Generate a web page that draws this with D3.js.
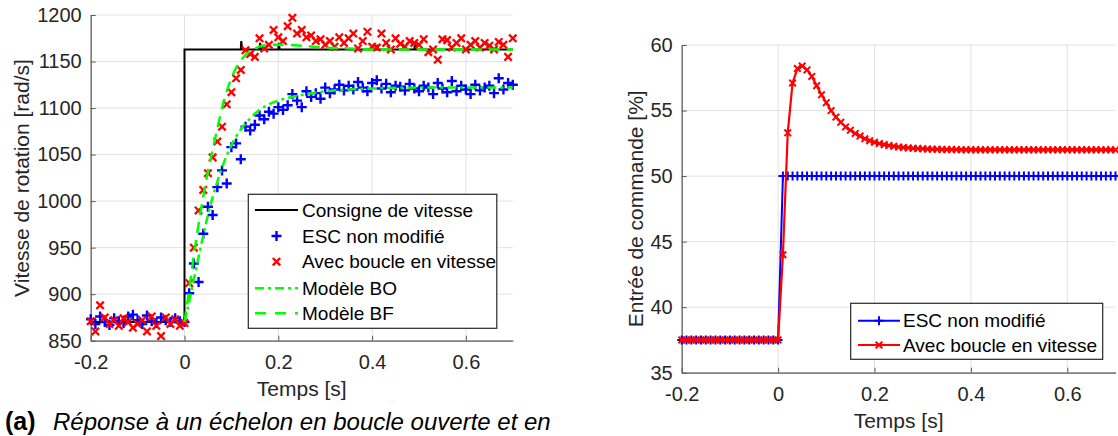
<!DOCTYPE html>
<html><head><meta charset="utf-8">
<script src="https://cdn.jsdelivr.net/npm/d3@7"></script>
<style>
body{margin:0;background:#fff;}
text{font-family:"Liberation Sans",Arial,Helvetica,sans-serif;}
</style>
</head><body>
<svg id="c" width="1118" height="436"></svg>
<script>
// ---------- DATA ----------
const times = [-0.2,-0.19,-0.18,-0.17,-0.16,-0.15,-0.14,-0.13,-0.12,-0.11,-0.1,-0.09,-0.08,-0.07,-0.06,-0.05,-0.04,-0.03,-0.02,-0.01,0,
  0.01,0.02,0.03,0.04,0.05,0.06,0.07,0.08,0.09,0.1,
  0.11,0.12,0.13,0.14,0.15,0.16,0.17,0.18,0.19,0.2,
  0.21,0.22,0.23,0.24,0.25,0.26,0.27,0.28,0.29,0.3,
  0.31,0.32,0.33,0.34,0.35,0.36,0.37,0.38,0.39,0.4,
  0.41,0.42,0.43,0.44,0.45,0.46,0.47,0.48,0.49,0.5,
  0.51,0.52,0.53,0.54,0.55,0.56,0.57,0.58,0.59,0.6,
  0.61,0.62,0.63,0.64,0.65,0.66,0.67,0.68,0.69,0.7];

const speedESC = [873,868,876,870,867,874,871,869,876,878,872,868,877,871,869,875,872,870,874,871,870,
  901,933,913,965,994,985,1015,1033,1019,1058,
  1062,1045,1080,1076,1082,1092,1088,1096,1094,1101,
  1098,1103,1115,1108,1101,1118,1112,1116,1110,1122,
  1116,1120,1125,1119,1124,1120,1128,1122,1118,1127,
  1130,1121,1126,1117,1124,1123,1119,1126,1121,1118,
  1124,1122,1115,1127,1121,1117,1129,1118,1124,1120,
  1115,1125,1119,1122,1124,1116,1132,1120,1127,1125];

const speedLoop = [871,860,888,875,868,872,866,874,870,864,868,872,860,876,866,855,875,868,873,866,869,
  912,950,990,1012,1030,1047,1064,1080,1104,1117,
  1132,1141,1162,1158,1155,1175,1164,1168,1184,1176,
  1172,1188,1197,1180,1184,1176,1178,1172,1174,1168,
  1172,1166,1176,1170,1175,1180,1164,1172,1182,1166,
  1165,1180,1170,1163,1175,1169,1166,1172,1170,1168,
  1174,1160,1163,1152,1174,1173,1165,1170,1175,1163,
  1168,1172,1165,1170,1167,1163,1171,1168,1155,1175];

const setpointT = [-0.2,0,0,0.12,0.121,0.123,0.16,0.161,0.163,0.2,0.201,0.203,0.41,0.411,0.413,0.49,0.491,0.493,0.7];
const setpointV = [870,870,1163,1163,1172,1163,1163,1170,1163,1163,1170,1163,1163,1168,1163,1163,1168,1163,1163];

const modelBOT = [0,0.01,0.02,0.03,0.04,0.05,0.06,0.07,0.08,0.09,0.1,0.12,0.14,0.16,0.18,0.2,0.25,0.3,0.35,0.4,0.5,0.6,0.7];
const modelBOV = [870,892,916,940,963,985,1004,1021,1036,1049,1060,1077,1089,1098,1104,1108,1114,1118,1120,1121,1122,1122,1122];

const modelBFT = [0,0.01,0.02,0.03,0.04,0.05,0.06,0.07,0.08,0.09,0.1,0.11,0.12,0.13,0.14,0.16,0.18,0.2,0.25,0.3,0.35,0.4,0.7];
const modelBFV = [870,905,942,975,1005,1032,1055,1078,1100,1118,1132,1143,1151,1157,1161,1166,1168,1168,1167,1165,1164,1163,1163];

const cmdESC = [37.5,37.5,37.5,37.5,37.5,37.5,37.5,37.5,37.5,37.5,37.5,37.5,37.5,37.5,37.5,37.5,37.5,37.5,37.5,37.5,37.5,
  50,50,50,50,50,50,50,50,50,50,
  50,50,50,50,50,50,50,50,50,50,
  50,50,50,50,50,50,50,50,50,50,
  50,50,50,50,50,50,50,50,50,50,
  50,50,50,50,50,50,50,50,50,50,
  50,50,50,50,50,50,50,50,50,50,
  50,50,50,50,50,50,50,50,50,50];

const cmdLoop = [37.5,37.5,37.5,37.5,37.5,37.5,37.5,37.5,37.5,37.5,37.5,37.5,37.5,37.5,37.5,37.5,37.5,37.5,37.5,37.5,37.5,
  44.0,53.3,57.1,58.2,58.4,58.1,57.6,56.9,56.2,55.6,
  55.0,54.5,54.1,53.75,53.5,53.25,53.05,52.85,52.7,52.58,
  52.48,52.4,52.33,52.27,52.22,52.18,52.15,52.12,52.1,52.08,
  52.06,52.05,52.04,52.03,52.02,52.02,52.02,52.01,52.01,52.01,
  52.0,52.0,52.0,52.0,52.0,52.0,52.0,52.0,52.0,52.0,
  52.0,52.0,52.0,52.0,52.0,52.0,52.0,52.0,52.0,52.0,
  52.0,52.0,52.0,52.0,52.0,52.0,52.0,52.0,52.0,52.0];

const xTicks = [-0.2,0,0.2,0.4,0.6];
const speedTicks = [850,900,950,1000,1050,1100,1150,1200];
const cmdTicks = [35,40,45,50,55,60];
const legendLeft = ["Consigne de vitesse","ESC non modifié","Avec boucle en vitesse","Modèle BO","Modèle BF"];
const legendRight = ["ESC non modifié","Avec boucle en vitesse"];
const xLabel = "Temps [s]";
const yLabelLeft = "Vitesse de rotation [rad/s]";
const yLabelRight = "Entrée de commande [%]";
const captionTag = "(a)";
const captionText = "Réponse à un échelon en boucle ouverte et en";

// ---------- DRAW ----------
const svg = d3.select("#c");
svg.append("rect").attr("width",1118).attr("height",436).attr("fill","#fff");

const BLUE="#0000ff", RED="#ff0000", GREEN="#00ff00", GRID="#e2e2e2", AX="#5a5a5a", TXT="#262626";
const tickFont = 20, labelFont = 21, legFont = 19;

const plusPath = s => `M${-s},0H${s}M0,${-s}V${s}`;
const crossPath = s => `M${-s},${-s}L${s},${s}M${-s},${s}L${s},${-s}`;
const fmt = d => String(+d.toFixed(1));

function frame(g, x, y, yTicks, ylab, ylabX, ylabY, ylabSize) {
  const [x0,x1] = x.range(), [y0,y1] = y.range();
  g.append("g").selectAll("line").data(xTicks).join("line")
    .attr("x1",d=>x(d)).attr("x2",d=>x(d)).attr("y1",y0).attr("y2",y1)
    .attr("stroke",GRID).attr("stroke-width",1);
  g.append("g").selectAll("line").data(yTicks).join("line")
    .attr("x1",x0).attr("x2",x1).attr("y1",d=>y(d)).attr("y2",d=>y(d))
    .attr("stroke",GRID).attr("stroke-width",1);
  const ax = g.append("g").attr("transform",`translate(0,${y0})`)
    .call(d3.axisBottom(x).tickValues(xTicks).tickFormat(fmt).tickSizeInner(-5).tickSizeOuter(0).tickPadding(9));
  const ay = g.append("g").attr("transform",`translate(${x0},0)`)
    .call(d3.axisLeft(y).tickValues(yTicks).tickFormat(d=>String(d)).tickSizeInner(-5).tickSizeOuter(0).tickPadding(9));
  [ax,ay].forEach(a=>{
    a.select(".domain").attr("stroke",AX).attr("stroke-width",1.2);
    a.selectAll(".tick line").attr("stroke",AX).attr("stroke-width",1);
    a.selectAll(".tick text").attr("fill",TXT).style("font-size",tickFont+"px")
      .style("font-family",'"Liberation Sans",Arial,sans-serif');
  });
  ax.selectAll(".tick text").attr("dy","0.95em");
  g.append("text").attr("x",(x0+x1)/2).attr("y",y0+55).attr("text-anchor","middle")
    .attr("fill",TXT).style("font-size",labelFont+"px").text(xLabel);
  g.append("text").attr("transform",`translate(${ylabX},${ylabY}) rotate(-90)`)
    .attr("text-anchor","middle").attr("dy","0.35em")
    .attr("fill",TXT).style("font-size",ylabSize+"px").text(ylab);
}

// ----- Left chart -----
const xL = d3.scaleLinear().domain([-0.2,0.7]).range([90.7,512.8]);
const yL = d3.scaleLinear().domain([850,1200]).range([340.7,15]);
const gL = svg.append("g");
frame(gL, xL, yL, speedTicks, yLabelLeft, 22, 178, 21);

svg.append("clipPath").attr("id","clipL").append("rect")
  .attr("x",86).attr("y",8).attr("width",432).attr("height",340);
const dL = gL.append("g").attr("clip-path","url(#clipL)");

const lineL = d3.line().x(d=>xL(d[0])).y(d=>yL(d[1]));
dL.append("path").datum(setpointT.map((t,i)=>[t,setpointV[i]]))
  .attr("d",lineL).attr("fill","none").attr("stroke","#000").attr("stroke-width",2);

dL.append("g").selectAll("path").data(times.map((t,i)=>[t,speedESC[i]])).join("path")
  .attr("transform",d=>`translate(${xL(d[0])},${yL(d[1])})`)
  .attr("d",plusPath(5)).attr("stroke",BLUE).attr("stroke-width",2.4).attr("fill","none");
dL.append("g").selectAll("path").data(times.map((t,i)=>[t,speedLoop[i]])).join("path")
  .attr("transform",d=>`translate(${xL(d[0])},${yL(d[1])})`)
  .attr("d",crossPath(3.7)).attr("stroke",RED).attr("stroke-width",2.3).attr("fill","none");

const curveL = d3.line().x(d=>xL(d[0])).y(d=>yL(d[1])).curve(d3.curveMonotoneX);
dL.append("path").datum(modelBOT.map((t,i)=>[t,modelBOV[i]]))
  .attr("d",curveL).attr("fill","none").attr("stroke",GREEN).attr("stroke-width",2.5)
  .attr("stroke-dasharray","9,4,3,4");
dL.append("path").datum(modelBFT.map((t,i)=>[t,modelBFV[i]]))
  .attr("d",curveL).attr("fill","none").attr("stroke",GREEN).attr("stroke-width",2.5)
  .attr("stroke-dasharray","11,7");

// left legend
const lg = gL.append("g");
lg.append("rect").attr("x",248.3).attr("y",194.3).attr("width",248.5).attr("height",134)
  .attr("fill","#fff").attr("stroke","#262626").attr("stroke-width",1.2);
const legY = [210,236,261.7,288.3,313.3];
legendLeft.forEach((name,i)=>{
  const yy = legY[i];
  if (i===0) lg.append("line").attr("x1",255).attr("x2",298).attr("y1",yy).attr("y2",yy).attr("stroke","#000").attr("stroke-width",2);
  if (i===1) lg.append("path").attr("transform",`translate(276.5,${yy})`).attr("d",plusPath(5)).attr("stroke",BLUE).attr("stroke-width",2.4);
  if (i===2) lg.append("path").attr("transform",`translate(276.5,${yy})`).attr("d",crossPath(3.7)).attr("stroke",RED).attr("stroke-width",2.3);
  if (i===3) lg.append("line").attr("x1",255).attr("x2",298).attr("y1",yy).attr("y2",yy).attr("stroke",GREEN).attr("stroke-width",2.5).attr("stroke-dasharray","9,4,3,4");
  if (i===4) lg.append("line").attr("x1",255).attr("x2",298).attr("y1",yy).attr("y2",yy).attr("stroke",GREEN).attr("stroke-width",2.5).attr("stroke-dasharray","11,9");
  lg.append("text").attr("x",302).attr("y",yy).attr("dy","0.35em").attr("fill","#000")
    .style("font-size",legFont+"px").text(name);
});

// ----- Right chart -----
const xR = d3.scaleLinear().domain([-0.2,0.7]).range([681.7,1115.5]);
const yR = d3.scaleLinear().domain([35,60]).range([372.7,45]);
const gR = svg.append("g");
frame(gR, xR, yR, cmdTicks, yLabelRight, 636, 208.8, 21);

svg.append("clipPath").attr("id","clipR").append("rect")
  .attr("x",672).attr("y",38).attr("width",446).attr("height",345);
const dR = gR.append("g").attr("clip-path","url(#clipR)");
const lineR = d3.line().x(d=>xR(d[0])).y(d=>yR(d[1]));
const escPts = times.map((t,i)=>[t,cmdESC[i]]);
const loopPts = times.map((t,i)=>[t,cmdLoop[i]]);
dR.append("path").datum(escPts).attr("d",lineR).attr("fill","none").attr("stroke",BLUE).attr("stroke-width",2);
dR.append("g").selectAll("path").data(escPts).join("path")
  .attr("transform",d=>`translate(${xR(d[0])},${yR(d[1])})`)
  .attr("d",plusPath(4.5)).attr("stroke",BLUE).attr("stroke-width",2);
dR.append("path").datum(loopPts).attr("d",lineR).attr("fill","none").attr("stroke",RED).attr("stroke-width",2.2);
dR.append("g").selectAll("path").data(loopPts).join("path")
  .attr("transform",d=>`translate(${xR(d[0])},${yR(d[1])})`)
  .attr("d",crossPath(3.3)).attr("stroke",RED).attr("stroke-width",2);

// right legend
const lgR = gR.append("g");
lgR.append("rect").attr("x",850.7).attr("y",303.3).attr("width",252).attr("height",56)
  .attr("fill","#fff").attr("stroke","#262626").attr("stroke-width",1.2);
const legYR = [320.7,345];
legendRight.forEach((name,i)=>{
  const yy = legYR[i], col = i===0?BLUE:RED;
  lgR.append("line").attr("x1",858).attr("x2",900).attr("y1",yy).attr("y2",yy).attr("stroke",col).attr("stroke-width",2);
  lgR.append("path").attr("transform",`translate(879,${yy})`).attr("d",i===0?plusPath(4.5):crossPath(3.3)).attr("stroke",col).attr("stroke-width",2);
  lgR.append("text").attr("x",903).attr("y",yy).attr("dy","0.35em").attr("fill","#000")
    .style("font-size",legFont+"px").text(name);
});

// ----- Caption -----
const cap = svg.append("text").attr("x",5).attr("y",429.5)
  .attr("fill","#000").style("font-size","24px");
cap.append("tspan").style("font-weight","bold").style("font-size","25px").text(captionTag);
cap.append("tspan").attr("x",53).style("font-style","italic").text(captionText);
</script>
</body></html>
